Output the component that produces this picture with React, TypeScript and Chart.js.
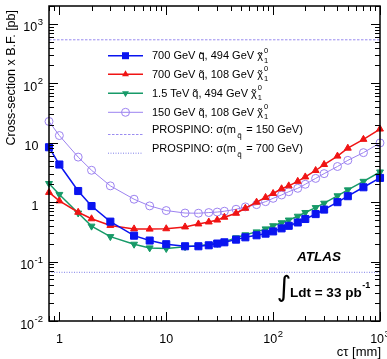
import React, { useEffect, useRef } from 'react';
import { Chart, registerables } from 'chart.js';

Chart.register(...registerables);

// ---------- data ----------
const CTAU_MM = [0.8, 1, 1.5, 2, 3, 5, 7, 10, 15, 20, 25, 30, 35, 45, 55, 70, 85, 100, 120, 140, 170, 200, 250, 300, 400, 500, 700, 1000];

const XS_700_494 = [8.4, 4.3, 1.54, 0.86, 0.47, 0.273, 0.226, 0.196, 0.181, 0.181, 0.188, 0.201, 0.211, 0.234, 0.256, 0.277, 0.295, 0.322, 0.362, 0.40, 0.455, 0.521, 0.63, 0.75, 1.0, 1.26, 1.78, 2.56];
const XS_700_108 = [1.46, 1.05, 0.676, 0.525, 0.406, 0.355, 0.352, 0.357, 0.383, 0.43, 0.464, 0.50, 0.558, 0.65, 0.79, 1.0, 1.2, 1.40, 1.68, 1.88, 2.24, 2.66, 3.41, 4.30, 5.96, 8.1, 11.4, 17.0];
const XS_1500_494 = [2.06, 1.35, 0.656, 0.395, 0.263, 0.196, 0.170, 0.166, 0.178, 0.184, 0.194, 0.203, 0.214, 0.251, 0.282, 0.316, 0.355, 0.401, 0.45, 0.50, 0.58, 0.67, 0.81, 0.96, 1.28, 1.61, 2.24, 3.22];
const XS_150_108 = [22.8, 13.2, 5.73, 3.44, 1.88, 1.12, 0.865, 0.722, 0.656, 0.651, 0.668, 0.681, 0.703, 0.759, 0.832, 0.909, 1.02, 1.16, 1.32, 1.50, 1.71, 2.0, 2.51, 3.02, 3.98, 5.05, 6.81, 9.93];

const SQUARK_MASS = ['700 GeV', '700 GeV', '1.5 TeV', '150 GeV'];
const LSP_MASS = ['494 GeV', '108 GeV', '494 GeV', '108 GeV'];
const SERIES_COLORS = ['#0a14f0', '#f01414', '#179a68', '#9c82f0'];
const SERIES_MARKERS = ['rect', 'triangle', 'triangleDown', 'circleOpen'];

const PROSPINO_MASS = ['150 GeV', '700 GeV'];
const PROSPINO_XS = [540, 0.066];
const PROSPINO_COLORS = ['#9a8cf0', '#7f7fe8'];
const PROSPINO_DASH = [[2.5, 1.5], [1, 1.5]];

const X_RANGE = [0.8, 1000];
const Y_RANGE = [0.01, 2000];
const X_TICKS = [1, 10, 100, 1000];
const X_TICK_LABELS = [['1', ''], ['10', ''], ['10', '2'], ['10', '3']];
const Y_TICKS = [0.01, 0.1, 1, 10, 100, 1000];
const Y_TICK_LABELS = [['10', '-2'], ['10', '-1'], ['1', ''], ['10', ''], ['10', '2'], ['10', '3']];

const X_TITLE = 'c\u03C4 [mm]';
const Y_TITLE = 'Cross-section x B.F. [pb]';
const LUMI = '33';

const FONT = '"Liberation Sans", Arial, Helvetica, sans-serif';

// ---------- helpers ----------
function logTicks(min: number, max: number) {
  const out: { v: number; major: boolean }[] = [];
  const e0 = Math.floor(Math.log10(min));
  const e1 = Math.ceil(Math.log10(max));
  for (let e = e0; e <= e1; e++) {
    for (let m = 1; m <= 9; m++) {
      const v = Number(m + 'e' + e);
      if (v >= min * 0.9999 && v <= max * 1.0001) out.push({ v, major: m === 1 });
    }
  }
  return out;
}

function drawMarker(ctx: CanvasRenderingContext2D, kind: string, x: number, y: number, color: string) {
  ctx.save();
  ctx.fillStyle = color;
  ctx.strokeStyle = color;
  ctx.lineWidth = 1;
  ctx.beginPath();
  if (kind === 'rect') {
    ctx.rect(x - 3.5, y - 3.5, 7, 7);
    ctx.fill();
  } else if (kind === 'triangle') {
    ctx.moveTo(x, y - 4);
    ctx.lineTo(x + 3.46, y + 2);
    ctx.lineTo(x - 3.46, y + 2);
    ctx.closePath();
    ctx.fill();
  } else if (kind === 'triangleDown') {
    ctx.moveTo(x, y + 4);
    ctx.lineTo(x + 3.46, y - 2);
    ctx.lineTo(x - 3.46, y - 2);
    ctx.closePath();
    ctx.fill();
  } else {
    ctx.arc(x, y, 4, 0, Math.PI * 2);
    ctx.stroke();
  }
  ctx.restore();
}

function drawTilded(ctx: CanvasRenderingContext2D, ch: string, x: number, y: number, size: number) {
  ctx.font = `${size}px ${FONT}`;
  const w = ctx.measureText(ch).width;
  ctx.textAlign = 'left';
  ctx.fillText(ch, x, y);
  ctx.textAlign = 'center';
  ctx.fillText('\u02DC', x + w / 2, y + size * 0.05);
  ctx.textAlign = 'left';
  return x + w;
}

function drawPowerLabel(ctx: CanvasRenderingContext2D, base: string, exp: string, x: number, y: number, align: 'center' | 'right') {
  const bigFont = `12.5px ${FONT}`;
  const smallFont = `9.5px ${FONT}`;
  ctx.font = bigFont;
  const wb = ctx.measureText(base).width;
  ctx.font = smallFont;
  const we = exp ? ctx.measureText(exp).width + 0.5 : 0;
  const total = wb + we;
  let left = align === 'center' ? x - total / 2 : x - total;
  ctx.textAlign = 'left';
  ctx.font = bigFont;
  ctx.fillText(base, left, y);
  if (exp) {
    ctx.font = smallFont;
    ctx.fillText(exp, left + wb + 0.5, y - 6.5);
  }
}

const rootStylePlugin = {
  id: 'rootStyle',
  afterDraw(chart: any) {
    const { ctx, chartArea: a, scales } = chart;
    const xs = scales.x;
    const ys = scales.y;
    ctx.save();

    // frame
    ctx.strokeStyle = '#000';
    ctx.lineWidth = 1.5;
    ctx.strokeRect(a.left, a.top, a.right - a.left, a.bottom - a.top);

    // inward ticks on all four sides
    ctx.lineWidth = 1;
    ctx.beginPath();
    for (const t of logTicks(X_RANGE[0], X_RANGE[1])) {
      const px = Math.round(xs.getPixelForValue(t.v)) + 0.5;
      const len = t.major ? 9 : 5;
      ctx.moveTo(px, a.bottom);
      ctx.lineTo(px, a.bottom - len);
      ctx.moveTo(px, a.top);
      ctx.lineTo(px, a.top + len);
    }
    for (const t of logTicks(Y_RANGE[0], Y_RANGE[1])) {
      const py = Math.round(ys.getPixelForValue(t.v)) + 0.5;
      const len = t.major ? 9 : 5;
      ctx.moveTo(a.left, py);
      ctx.lineTo(a.left + len, py);
      ctx.moveTo(a.right, py);
      ctx.lineTo(a.right - len, py);
    }
    ctx.stroke();

    // tick labels
    ctx.fillStyle = '#000';
    ctx.textBaseline = 'alphabetic';
    X_TICKS.forEach((v, i) => {
      const px = xs.getPixelForValue(v);
      const [b, e] = X_TICK_LABELS[i];
      drawPowerLabel(ctx, b, e, px, a.bottom + 22, 'center');
    });
    Y_TICKS.forEach((v, i) => {
      const py = ys.getPixelForValue(v);
      const [b, e] = Y_TICK_LABELS[i];
      drawPowerLabel(ctx, b, e, e ? 43 : 38.5, py + 7.5, 'right');
    });

    // axis titles
    ctx.font = `13px ${FONT}`;
    ctx.textAlign = 'right';
    ctx.fillText(X_TITLE, a.right + 1, 356);
    ctx.save();
    ctx.translate(14.5, 10);
    ctx.rotate(-Math.PI / 2);
    ctx.font = `12.5px ${FONT}`;
    ctx.textAlign = 'right';
    ctx.fillText(Y_TITLE, 0, 0);
    ctx.restore();

    // legend
    const lx0 = 108;
    const lx1 = 143;
    const tx = 152;
    const rowY = [55.7, 74.3, 93.3, 112.3];
    SQUARK_MASS.forEach((sq, i) => {
      const y = rowY[i];
      ctx.strokeStyle = SERIES_COLORS[i];
      ctx.lineWidth = i === 3 ? 1 : 1.5;
      ctx.beginPath();
      ctx.moveTo(lx0, y);
      ctx.lineTo(lx1, y);
      ctx.stroke();
      drawMarker(ctx, SERIES_MARKERS[i], (lx0 + lx1) / 2, y, SERIES_COLORS[i]);
      ctx.fillStyle = '#000';
      const base = y + 3.5;
      ctx.font = `11px ${FONT}`;
      ctx.textAlign = 'left';
      let cx = tx;
      const t1 = sq + ' ';
      ctx.fillText(t1, cx, base);
      cx += ctx.measureText(t1).width;
      cx = drawTilded(ctx, 'q', cx, base, 11);
      ctx.font = `11px ${FONT}`;
      const t2 = ', ' + LSP_MASS[i] + ' ';
      ctx.fillText(t2, cx, base);
      cx += ctx.measureText(t2).width;
      cx = drawTilded(ctx, '\u03C7', cx, base, 11);
      ctx.font = `7.5px ${FONT}`;
      ctx.fillText('0', cx + 1, base - 6.5);
      ctx.fillText('1', cx + 1, base + 3.5);
    });
    const pRowLine = [134, 152.7];
    const pRowText = [129.3, 148.3];
    PROSPINO_MASS.forEach((m, i) => {
      ctx.strokeStyle = PROSPINO_COLORS[i];
      ctx.lineWidth = 1;
      ctx.setLineDash(PROSPINO_DASH[i]);
      ctx.beginPath();
      ctx.moveTo(lx0, pRowLine[i] + 0.5);
      ctx.lineTo(lx1, pRowLine[i] + 0.5);
      ctx.stroke();
      ctx.setLineDash([]);
      ctx.fillStyle = '#000';
      const base = pRowText[i] + 4;
      ctx.font = `11px ${FONT}`;
      ctx.textAlign = 'left';
      let cx = tx;
      const t1 = 'PROSPINO: \u03C3(m';
      ctx.fillText(t1, cx, base);
      cx += ctx.measureText(t1).width + 1.5;
      cx = drawTilded(ctx, 'q', cx, base + 4.5, 8);
      ctx.font = `11px ${FONT}`;
      ctx.fillText(' = ' + m + ')', cx + 1.5, base);
    });

    // ATLAS label and luminosity
    ctx.fillStyle = '#000';
    ctx.textAlign = 'left';
    ctx.font = `italic bold 13.5px ${FONT}`;
    ctx.fillText('ATLAS', 297, 261);
    ctx.font = `28px "DejaVu Sans", ${FONT}`;
    ctx.textBaseline = 'middle';
    ctx.textAlign = 'center';
    ctx.fillText('\u222B', 284, 289);
    ctx.textBaseline = 'alphabetic';
    ctx.textAlign = 'left';
    ctx.font = `bold 13.5px ${FONT}`;
    const lt = 'Ldt = ' + LUMI + ' pb';
    ctx.fillText(lt, 290, 296.5);
    const lw = ctx.measureText(lt).width;
    ctx.font = `bold 9px ${FONT}`;
    ctx.fillText('-1', 290 + lw + 0.5, 288);

    ctx.restore();
  },
};

export default function App() {
  const canvasRef = useRef<HTMLCanvasElement | null>(null);

  useEffect(() => {
    const canvas = canvasRef.current;
    if (!canvas) return;

    const seriesData = [XS_700_494, XS_700_108, XS_1500_494, XS_150_108];
    const datasets: any[] = seriesData.map((ys, i) => {
      const kind = SERIES_MARKERS[i];
      const color = SERIES_COLORS[i];
      return {
        label: `${SQUARK_MASS[i]} squark, ${LSP_MASS[i]} neutralino`,
        data: CTAU_MM.map((x, j) => ({ x, y: ys[j] })),
        borderColor: color,
        backgroundColor: color,
        borderWidth: kind === 'circleOpen' ? 1 : 1.5,
        pointStyle: kind === 'rect' ? 'rect' : kind === 'circleOpen' ? 'circle' : 'triangle',
        pointRotation: kind === 'triangleDown' ? 180 : 0,
        pointRadius: kind === 'rect' ? 5 : 4,
        pointBackgroundColor: kind === 'circleOpen' ? 'rgba(255,255,255,0)' : color,
        pointBorderColor: color,
        pointBorderWidth: 1,
        tension: 0,
        clip: false,
        order: i,
      };
    });
    PROSPINO_XS.forEach((v, i) => {
      datasets.push({
        label: `PROSPINO ${PROSPINO_MASS[i]}`,
        data: X_RANGE.map((x) => ({ x, y: v })),
        borderColor: PROSPINO_COLORS[i],
        borderWidth: 1,
        borderDash: PROSPINO_DASH[i],
        pointRadius: 0,
        tension: 0,
        order: 10 + i,
      });
    });

    const chart = new Chart(canvas, {
      type: 'line',
      data: { datasets },
      options: {
        animation: false,
        responsive: true,
        maintainAspectRatio: false,
        devicePixelRatio: 1,
        events: [],
        layout: { padding: { left: 49, right: 7, top: 3, bottom: 38 } },
        scales: {
          x: { type: 'logarithmic', min: X_RANGE[0], max: X_RANGE[1], display: false },
          y: { type: 'logarithmic', min: Y_RANGE[0], max: Y_RANGE[1], display: false },
        },
        plugins: {
          legend: { display: false },
          tooltip: { enabled: false },
        },
      },
      plugins: [rootStylePlugin],
    } as any);

    return () => {
      chart.destroy();
    };
  }, []);

  return (
    <div style={{ position: 'fixed', left: 0, top: 0, width: 387, height: 359, background: '#fff' }}>
      <canvas ref={canvasRef} />
    </div>
  );
}
